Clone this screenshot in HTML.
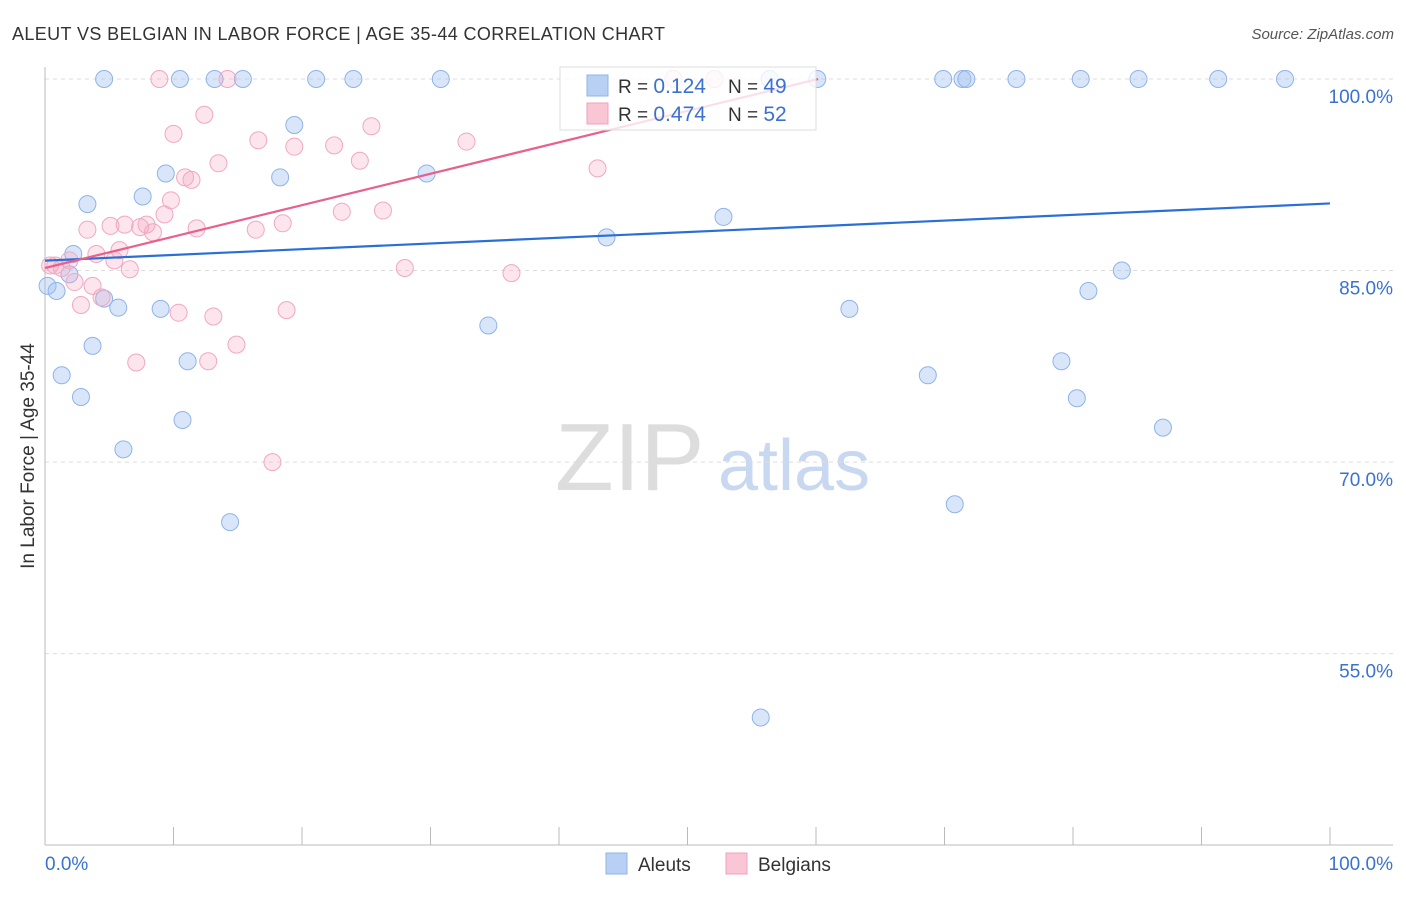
<!DOCTYPE html>
<html><head><meta charset="utf-8">
<style>
body{margin:0;background:#fff;font-family:"Liberation Sans",sans-serif;}
svg text{font-family:"Liberation Sans",sans-serif;}
</style></head>
<body>
<svg id="chart" width="1406" height="892">
<text x="12" y="40" font-size="18" fill="#333" textLength="653" lengthAdjust="spacing">ALEUT VS BELGIAN IN LABOR FORCE | AGE 35-44 CORRELATION CHART</text>
<text x="1394" y="39" font-size="15" fill="#555" text-anchor="end" font-style="italic">Source: ZipAtlas.com</text>
<text x="34" y="456" font-size="19" fill="#333" text-anchor="middle" transform="rotate(-90 34 456)">In Labor Force | Age 35-44</text>
<text x="555" y="490" font-size="96" fill="#ddd" font-family="Liberation Serif">ZIP</text>
<text x="718" y="490" font-size="72" fill="#c8d8f0">atlas</text>
<g id="grid"></g>
<g id="axes"></g>
<g id="pts"></g>
<g id="trends"></g>
<g>
<rect x="560" y="67" width="256" height="63" fill="#fff" fill-opacity="0.8" stroke="#ddd"/>
<rect x="587" y="75" width="21" height="21" fill="#b8d0f4" stroke="#8fb4e8"/>
<rect x="587" y="103" width="21" height="21" fill="#f9c6d6" stroke="#f0a0bc"/>
<text x="618" y="93" font-size="19" fill="#333">R = <tspan fill="#3a72d0" font-size="21"> 0.124</tspan></text>
<text x="728" y="93" font-size="19" fill="#333">N = <tspan fill="#3a72d0" font-size="21">49</tspan></text>
<text x="618" y="121" font-size="19" fill="#333">R = <tspan fill="#3a72d0" font-size="21">0.474</tspan></text>
<text x="728" y="121" font-size="19" fill="#333">N = <tspan fill="#3a72d0" font-size="21"> 52</tspan></text>
</g>
<g>
<rect x="606" y="853" width="21" height="21" fill="#b8d0f4" stroke="#8fb4e8"/>
<text x="638" y="871" font-size="19" fill="#333">Aleuts</text>
<rect x="726" y="853" width="21" height="21" fill="#f9c6d6" stroke="#f0a0bc"/>
<text x="758" y="871" font-size="19" fill="#333">Belgians</text>
</g>
</svg>
<script>
const aleutX=[4.6,10.5,13.2,15.4,21.1,24.0,30.8,60.1,69.9,71.4,71.7,75.6,80.6,85.1,91.3,96.5,56.4,
19.4,9.4,18.3,29.7,7.6,3.3,52.8,43.7,2.2,1.9,0.2,0.9,4.6,5.7,9.0,83.8,81.2,62.6,34.5,3.7,1.3,11.1,2.8,10.7,6.1,68.7,79.1,80.3,87.0,70.8,14.4,55.7];
const aleutY=[100,100,100,100,100,100,100,100,100,100,100,100,100,100,100,100,100,
96.4,92.6,92.3,92.6,90.8,90.2,89.2,87.6,86.3,84.7,83.8,83.4,82.8,82.1,82.0,85.0,83.4,82.0,80.7,79.1,76.8,77.9,75.1,73.3,71.0,76.8,77.9,75.0,72.7,66.7,65.3,50.0];
const belgX=[8.9,14.2,52.1,48.9,12.4,10.0,16.6,25.4,19.4,22.5,32.8,13.5,24.5,43.0,10.9,11.4,9.8,9.3,23.1,26.3,
3.3,5.1,6.2,7.9,7.4,8.4,11.8,16.4,18.5,4.0,5.8,5.4,0.8,1.3,1.9,6.6,28.0,36.3,2.3,3.7,4.4,2.8,10.4,13.1,18.8,14.9,7.1,12.7,17.7,0.4];
const belgY=[100,100,100,100,97.2,95.7,95.2,96.3,94.7,94.8,95.1,93.4,93.6,93.0,92.3,92.1,90.5,89.4,89.6,89.7,
88.2,88.5,88.6,88.6,88.4,88.0,88.3,88.2,88.7,86.3,86.6,85.8,85.4,85.2,85.8,85.1,85.2,84.8,84.1,83.8,82.9,82.3,81.7,81.4,81.9,79.2,77.8,77.9,70.0,85.4];
const belgTrend=[85.2,0.246];
const yTicks=[100,85,70,55];
const yTickLabels=["100.0%","85.0%","70.0%","55.0%"];
const xTicks=[0,10,20,30,40,50,60,70,80,90,100];
const NS="http://www.w3.org/2000/svg";
const X=v=>45+v*12.85, Y=v=>79+(100-v)*12.77;
function mk(tag,attrs,parent){const e=document.createElementNS(NS,tag);for(const k in attrs)e.setAttribute(k,attrs[k]);document.getElementById(parent).appendChild(e);return e;}
yTicks.forEach((t,i)=>{
  const g=mk('line',{x1:45,x2:1393,y1:Y(t),y2:Y(t),stroke:'#ddd','stroke-dasharray':'4,4'},'grid');
  
  
  const l=mk('text',{x:1393,y:Y(t)+24,'font-size':19,fill:'#3a72d0','text-anchor':'end'},'axes');
  l.textContent=yTickLabels[i];
  
  
});
const ya=mk('line',{x1:45,x2:45,y1:67,y2:845,stroke:'#bbb'},'axes');


const xa=mk('line',{x1:45,x2:1393,y1:845,y2:845,stroke:'#bbb'},'axes');


xTicks.forEach(t=>{
  const k=mk('line',{x1:X(t),x2:X(t),y1:827,y2:845,stroke:'#bbb'},'axes');
  
  
});
const xl0=mk('text',{x:45,y:870,'font-size':19,fill:'#3a72d0'},'axes');xl0.textContent="0.0%";


const xl1=mk('text',{x:1393,y:870,'font-size':19,fill:'#3a72d0','text-anchor':'end'},'axes');xl1.textContent="100.0%";


function drawPts(xs,ys,fill,stroke,name){
  xs.forEach((x,i)=>{
    const c=mk('circle',{cx:X(x),cy:Y(ys[i]),r:8.5,fill:fill,stroke:stroke,'stroke-width':1},'pts');
    
    
  });
}
drawPts(aleutX,aleutY,'rgba(160,192,240,0.4)','#8fb4e8','aleut-point');
drawPts(belgX,belgY,'rgba(245,170,195,0.3)','#f0a8c2','belgian-point');
function fit(xs,ys){const n=xs.length;let mx=0,my=0;xs.forEach((x,i)=>{mx+=x;my+=ys[i];});mx/=n;my/=n;let sxy=0,sxx=0;xs.forEach((x,i)=>{sxy+=(x-mx)*(ys[i]-my);sxx+=(x-mx)**2;});const b=sxy/sxx;return [my-b*mx,b];}
const [aa,ab]=fit(aleutX,aleutY);
const tl1=mk('line',{x1:X(0),y1:Y(aa),x2:X(100),y2:Y(aa+ab*100),stroke:'#2a6fd6','stroke-width':2.2},'trends');


const ba=belgTrend[0], bb=belgTrend[1];
let xe=100; if(bb>0&&ba+bb*100>100) xe=(100-ba)/bb;
const tl2=mk('line',{x1:X(0),y1:Y(ba),x2:X(xe),y2:Y(ba+bb*xe),stroke:'#e8608c','stroke-width':2.2},'trends');


</script>
</body></html>
